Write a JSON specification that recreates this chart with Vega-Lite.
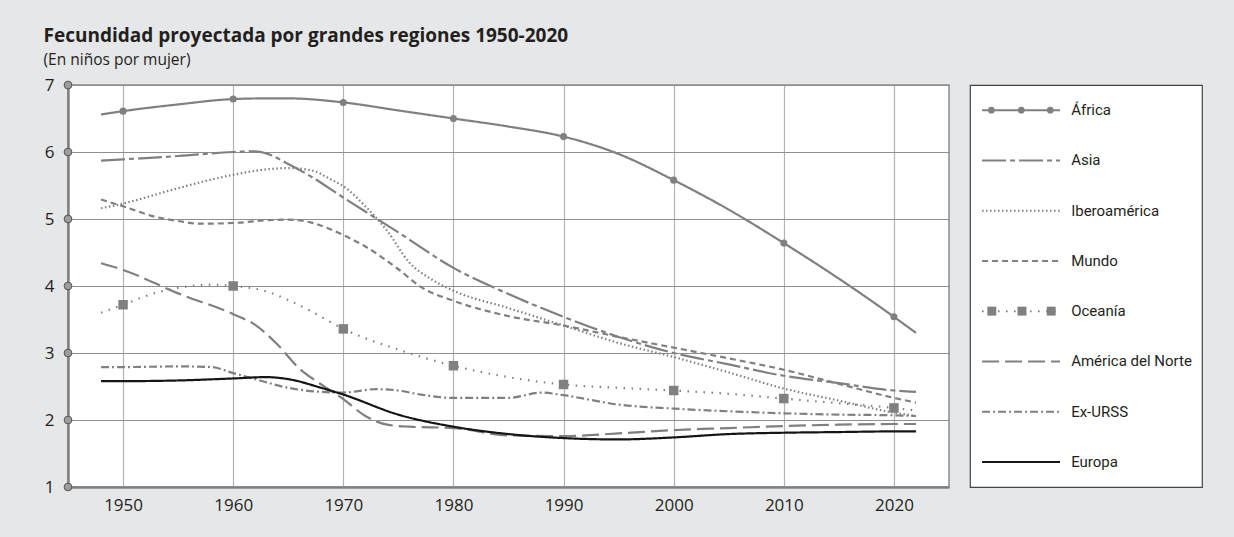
{
"$schema": "https://vega.github.io/schema/vega-lite/v6.json",
"background": "#e6e7e8",
"padding": {"left": 43, "top": 26, "right": 35, "bottom": 26},
"title": {"text": "Fecundidad proyectada por grandes regiones 1950-2020", "subtitle": "(En niños por mujer)", "anchor": "start", "frame": "bounds", "font": "Open Sans", "fontSize": 19, "fontWeight": "bold", "color": "#231f20", "subtitleFont": "Open Sans", "subtitleFontSize": 15.5, "subtitleColor": "#231f20", "subtitlePadding": 7, "offset": 7},
"datasets": {
"fert": [
{"series":"África","year":1948,"value":6.56},{"series":"África","year":1950,"value":6.61},{"series":"África","year":1955,"value":6.71},{"series":"África","year":1960,"value":6.79},{"series":"África","year":1963,"value":6.80},{"series":"África","year":1965,"value":6.80},{"series":"África","year":1970,"value":6.74},{"series":"África","year":1975,"value":6.62},{"series":"África","year":1980,"value":6.50},{"series":"África","year":1985,"value":6.38},{"series":"África","year":1990,"value":6.23},{"series":"África","year":1995,"value":5.97},{"series":"África","year":2000,"value":5.58},{"series":"África","year":2005,"value":5.14},{"series":"África","year":2010,"value":4.64},{"series":"África","year":2015,"value":4.11},{"series":"África","year":2020,"value":3.54},{"series":"África","year":2022,"value":3.30},
{"series":"Asia","year":1948,"value":5.87},{"series":"Asia","year":1950,"value":5.89},{"series":"Asia","year":1955,"value":5.94},{"series":"Asia","year":1960,"value":6.00},{"series":"Asia","year":1962,"value":6.01},{"series":"Asia","year":1963,"value":5.98},{"series":"Asia","year":1965,"value":5.82},{"series":"Asia","year":1967,"value":5.64},{"series":"Asia","year":1970,"value":5.32},{"series":"Asia","year":1975,"value":4.80},{"series":"Asia","year":1980,"value":4.27},{"series":"Asia","year":1985,"value":3.88},{"series":"Asia","year":1990,"value":3.54},{"series":"Asia","year":1995,"value":3.24},{"series":"Asia","year":2000,"value":3.00},{"series":"Asia","year":2005,"value":2.83},{"series":"Asia","year":2010,"value":2.66},{"series":"Asia","year":2015,"value":2.55},{"series":"Asia","year":2020,"value":2.44},{"series":"Asia","year":2022,"value":2.42},
{"series":"Iberoamérica","year":1948,"value":5.16},{"series":"Iberoamérica","year":1950,"value":5.23},{"series":"Iberoamérica","year":1955,"value":5.46},{"series":"Iberoamérica","year":1960,"value":5.66},{"series":"Iberoamérica","year":1963,"value":5.74},{"series":"Iberoamérica","year":1965,"value":5.76},{"series":"Iberoamérica","year":1967,"value":5.73},{"series":"Iberoamérica","year":1969,"value":5.58},{"series":"Iberoamérica","year":1970,"value":5.49},{"series":"Iberoamérica","year":1972,"value":5.19},{"series":"Iberoamérica","year":1974,"value":4.82},{"series":"Iberoamérica","year":1976,"value":4.35},{"series":"Iberoamérica","year":1978,"value":4.10},{"series":"Iberoamérica","year":1980,"value":3.93},{"series":"Iberoamérica","year":1985,"value":3.67},{"series":"Iberoamérica","year":1990,"value":3.41},{"series":"Iberoamérica","year":1995,"value":3.15},{"series":"Iberoamérica","year":2000,"value":2.94},{"series":"Iberoamérica","year":2005,"value":2.71},{"series":"Iberoamérica","year":2010,"value":2.47},{"series":"Iberoamérica","year":2015,"value":2.29},{"series":"Iberoamérica","year":2020,"value":2.11},{"series":"Iberoamérica","year":2022,"value":2.06},
{"series":"Mundo","year":1948,"value":5.29},{"series":"Mundo","year":1950,"value":5.19},{"series":"Mundo","year":1953,"value":5.03},{"series":"Mundo","year":1955,"value":4.97},{"series":"Mundo","year":1957,"value":4.93},{"series":"Mundo","year":1960,"value":4.94},{"series":"Mundo","year":1963,"value":4.98},{"series":"Mundo","year":1965,"value":4.99},{"series":"Mundo","year":1967,"value":4.95},{"series":"Mundo","year":1970,"value":4.76},{"series":"Mundo","year":1972,"value":4.59},{"series":"Mundo","year":1975,"value":4.25},{"series":"Mundo","year":1977,"value":3.99},{"series":"Mundo","year":1980,"value":3.78},{"series":"Mundo","year":1985,"value":3.55},{"series":"Mundo","year":1990,"value":3.41},{"series":"Mundo","year":1995,"value":3.24},{"series":"Mundo","year":2000,"value":3.08},{"series":"Mundo","year":2005,"value":2.92},{"series":"Mundo","year":2010,"value":2.75},{"series":"Mundo","year":2015,"value":2.54},{"series":"Mundo","year":2020,"value":2.33},{"series":"Mundo","year":2022,"value":2.26},
{"series":"Oceanía","year":1948,"value":3.60},{"series":"Oceanía","year":1950,"value":3.72},{"series":"Oceanía","year":1953,"value":3.90},{"series":"Oceanía","year":1955,"value":3.97},{"series":"Oceanía","year":1958,"value":4.02},{"series":"Oceanía","year":1960,"value":4.00},{"series":"Oceanía","year":1963,"value":3.92},{"series":"Oceanía","year":1965,"value":3.79},{"series":"Oceanía","year":1967,"value":3.63},{"series":"Oceanía","year":1970,"value":3.36},{"series":"Oceanía","year":1975,"value":3.05},{"series":"Oceanía","year":1980,"value":2.81},{"series":"Oceanía","year":1985,"value":2.64},{"series":"Oceanía","year":1990,"value":2.53},{"series":"Oceanía","year":1995,"value":2.48},{"series":"Oceanía","year":2000,"value":2.44},{"series":"Oceanía","year":2005,"value":2.39},{"series":"Oceanía","year":2010,"value":2.32},{"series":"Oceanía","year":2015,"value":2.25},{"series":"Oceanía","year":2020,"value":2.18},{"series":"Oceanía","year":2022,"value":2.14},
{"series":"América del Norte","year":1948,"value":4.34},{"series":"América del Norte","year":1950,"value":4.24},{"series":"América del Norte","year":1955,"value":3.89},{"series":"América del Norte","year":1960,"value":3.58},{"series":"América del Norte","year":1962,"value":3.42},{"series":"América del Norte","year":1964,"value":3.13},{"series":"América del Norte","year":1966,"value":2.77},{"series":"América del Norte","year":1968,"value":2.53},{"series":"América del Norte","year":1970,"value":2.31},{"series":"América del Norte","year":1972,"value":2.06},{"series":"América del Norte","year":1974,"value":1.93},{"series":"América del Norte","year":1976,"value":1.90},{"series":"América del Norte","year":1980,"value":1.88},{"series":"América del Norte","year":1985,"value":1.77},{"series":"América del Norte","year":1990,"value":1.76},{"series":"América del Norte","year":1995,"value":1.80},{"series":"América del Norte","year":2000,"value":1.85},{"series":"América del Norte","year":2005,"value":1.88},{"series":"América del Norte","year":2010,"value":1.91},{"series":"América del Norte","year":2015,"value":1.93},{"series":"América del Norte","year":2020,"value":1.94},{"series":"América del Norte","year":2022,"value":1.94},
{"series":"Ex-URSS","year":1948,"value":2.79},{"series":"Ex-URSS","year":1950,"value":2.79},{"series":"Ex-URSS","year":1955,"value":2.80},{"series":"Ex-URSS","year":1958,"value":2.79},{"series":"Ex-URSS","year":1960,"value":2.70},{"series":"Ex-URSS","year":1962,"value":2.61},{"series":"Ex-URSS","year":1965,"value":2.48},{"series":"Ex-URSS","year":1968,"value":2.42},{"series":"Ex-URSS","year":1970,"value":2.41},{"series":"Ex-URSS","year":1973,"value":2.46},{"series":"Ex-URSS","year":1975,"value":2.44},{"series":"Ex-URSS","year":1977,"value":2.38},{"series":"Ex-URSS","year":1980,"value":2.33},{"series":"Ex-URSS","year":1985,"value":2.33},{"series":"Ex-URSS","year":1988,"value":2.41},{"series":"Ex-URSS","year":1990,"value":2.37},{"series":"Ex-URSS","year":1995,"value":2.23},{"series":"Ex-URSS","year":2000,"value":2.17},{"series":"Ex-URSS","year":2005,"value":2.13},{"series":"Ex-URSS","year":2010,"value":2.10},{"series":"Ex-URSS","year":2015,"value":2.08},{"series":"Ex-URSS","year":2020,"value":2.07},{"series":"Ex-URSS","year":2022,"value":2.06},
{"series":"Europa","year":1948,"value":2.58},{"series":"Europa","year":1950,"value":2.58},{"series":"Europa","year":1955,"value":2.59},{"series":"Europa","year":1960,"value":2.62},{"series":"Europa","year":1963,"value":2.64},{"series":"Europa","year":1965,"value":2.61},{"series":"Europa","year":1968,"value":2.48},{"series":"Europa","year":1970,"value":2.38},{"series":"Europa","year":1975,"value":2.08},{"series":"Europa","year":1980,"value":1.90},{"series":"Europa","year":1985,"value":1.79},{"series":"Europa","year":1990,"value":1.73},{"series":"Europa","year":1995,"value":1.71},{"series":"Europa","year":2000,"value":1.74},{"series":"Europa","year":2005,"value":1.79},{"series":"Europa","year":2010,"value":1.81},{"series":"Europa","year":2015,"value":1.82},{"series":"Europa","year":2020,"value":1.83},{"series":"Europa","year":2022,"value":1.83}
],
"yticks": [{"tick":1},{"tick":2},{"tick":3},{"tick":4},{"tick":5},{"tick":6},{"tick":7}],
"legend": [{"series":"África"},{"series":"Asia"},{"series":"Iberoamérica"},{"series":"Mundo"},{"series":"Oceanía"},{"series":"América del Norte"},{"series":"Ex-URSS"},{"series":"Europa"}]
},
"spacing": 19,
"hconcat": [
{
"width": 881, "height": 402,
"layer": [
{"data": {"name": "fert"},
 "mark": {"type": "line", "strokeWidth": 2.2, "interpolate": "monotone"},
 "encoding": {
  "x": {"field": "year", "type": "quantitative", "scale": {"domain": [1945, 2025], "nice": false, "zero": false},
        "axis": {"values": [1950,1960,1970,1980,1990,2000,2010,2020], "format": "d", "title": null, "grid": true, "gridColor": "#b3b3b3", "gridWidth": 1.2, "ticks": false, "domainColor": "#808080", "domainWidth": 2.5, "labelPadding": 10, "labelFontSize": 17, "labelFont": "Open Sans", "labelColor": "#231f20"}},
  "y": {"field": "value", "type": "quantitative", "scale": {"domain": [1, 7], "nice": false, "zero": false},
        "axis": {"values": [1,2,3,4,5,6,7], "format": "d", "title": null, "grid": true, "gridColor": "#8f8f8f", "gridWidth": 1, "ticks": false, "domainColor": "#808080", "domainWidth": 2.5, "labelPadding": 14, "labelFontSize": 17, "labelFont": "Open Sans", "labelColor": "#231f20"}},
  "color": {"field": "series", "type": "nominal", "scale": {"domain": ["África","Asia","Iberoamérica","Mundo","Oceanía","América del Norte","Ex-URSS","Europa"], "range": ["#808080","#808080","#808080","#808080","#808080","#808080","#808080","#151515"]}, "legend": null},
  "strokeDash": {"field": "series", "type": "nominal", "scale": {"domain": ["África","Asia","Iberoamérica","Mundo","Oceanía","América del Norte","Ex-URSS","Europa"], "range": [[1,0],[24,4,5,4],[1.5,2.5],[6,4],[1.5,6.5],[17,6],[8,3,2,3],[1,0]]}, "legend": null}
 }},
{"data": {"name": "fert"},
 "transform": [{"filter": "datum.series == 'África' && datum.year % 10 == 0"}],
 "mark": {"type": "point", "shape": "circle", "filled": true, "size": 50, "color": "#808080", "opacity": 1},
 "encoding": {"x": {"field": "year", "type": "quantitative"}, "y": {"field": "value", "type": "quantitative"}}},
{"data": {"name": "fert"},
 "transform": [{"filter": "datum.series == 'Oceanía' && datum.year % 10 == 0"}],
 "mark": {"type": "point", "shape": "square", "filled": true, "size": 90, "color": "#808080", "opacity": 1},
 "encoding": {"x": {"field": "year", "type": "quantitative"}, "y": {"field": "value", "type": "quantitative"}}},
{"data": {"name": "yticks"},
 "mark": {"type": "point", "shape": "circle", "filled": true, "size": 60, "fill": "#9d9d9d", "stroke": "#555555", "strokeWidth": 1, "opacity": 1, "clip": false},
 "encoding": {"x": {"datum": 1945}, "y": {"field": "tick", "type": "quantitative"}}}
]
},
{
"width": 232, "height": 402,
"data": {"name": "legend"},
"view": {"stroke": "#444444", "strokeWidth": 1.2, "fill": "white"},
"encoding": {"y": {"field": "series", "type": "nominal", "scale": {"type": "point", "domain": ["África","Asia","Iberoamérica","Mundo","Oceanía","América del Norte","Ex-URSS","Europa"], "padding": 0.5}, "axis": null}},
"layer": [
{"mark": {"type": "rule", "strokeWidth": 2},
 "encoding": {
  "x": {"datum": 0.052, "type": "quantitative", "scale": {"domain": [0, 1], "nice": false}, "axis": null},
  "x2": {"datum": 0.388},
  "color": {"field": "series", "type": "nominal", "scale": {"domain": ["África","Asia","Iberoamérica","Mundo","Oceanía","América del Norte","Ex-URSS","Europa"], "range": ["#808080","#808080","#808080","#808080","#808080","#808080","#808080","#151515"]}, "legend": null},
  "strokeDash": {"field": "series", "type": "nominal", "scale": {"domain": ["África","Asia","Iberoamérica","Mundo","Oceanía","América del Norte","Ex-URSS","Europa"], "range": [[1,0],[24,4,5,4],[1.5,2.5],[6,4],[1.5,6.5],[17,6],[8,3,2,3],[1,0]]}, "legend": null}
 }},
{"transform": [{"filter": "datum.series == 'África'"}],
 "mark": {"type": "point", "shape": "circle", "filled": true, "size": 45, "color": "#808080", "opacity": 1},
 "encoding": {"x": {"datum": 0.092, "type": "quantitative", "axis": null}}},
{"transform": [{"filter": "datum.series == 'África'"}],
 "mark": {"type": "point", "shape": "circle", "filled": true, "size": 45, "color": "#808080", "opacity": 1},
 "encoding": {"x": {"datum": 0.221, "type": "quantitative", "axis": null}}},
{"transform": [{"filter": "datum.series == 'África'"}],
 "mark": {"type": "point", "shape": "circle", "filled": true, "size": 45, "color": "#808080", "opacity": 1},
 "encoding": {"x": {"datum": 0.346, "type": "quantitative", "axis": null}}},
{"transform": [{"filter": "datum.series == 'Oceanía'"}],
 "mark": {"type": "point", "shape": "square", "filled": true, "size": 80, "color": "#808080", "opacity": 1},
 "encoding": {"x": {"datum": 0.094, "type": "quantitative", "axis": null}}},
{"transform": [{"filter": "datum.series == 'Oceanía'"}],
 "mark": {"type": "point", "shape": "square", "filled": true, "size": 80, "color": "#808080", "opacity": 1},
 "encoding": {"x": {"datum": 0.224, "type": "quantitative", "axis": null}}},
{"transform": [{"filter": "datum.series == 'Oceanía'"}],
 "mark": {"type": "point", "shape": "square", "filled": true, "size": 80, "color": "#808080", "opacity": 1},
 "encoding": {"x": {"datum": 0.35, "type": "quantitative", "axis": null}}},
{"mark": {"type": "text", "align": "left", "baseline": "middle", "font": "Roboto", "fontSize": 15, "color": "#231f20"},
 "encoding": {"x": {"datum": 0.436, "type": "quantitative", "axis": null}, "text": {"field": "series"}}}
]
}
],
"config": {"view": {"fill": "white", "stroke": "#8a8a8a", "strokeWidth": 1.5}}
}
